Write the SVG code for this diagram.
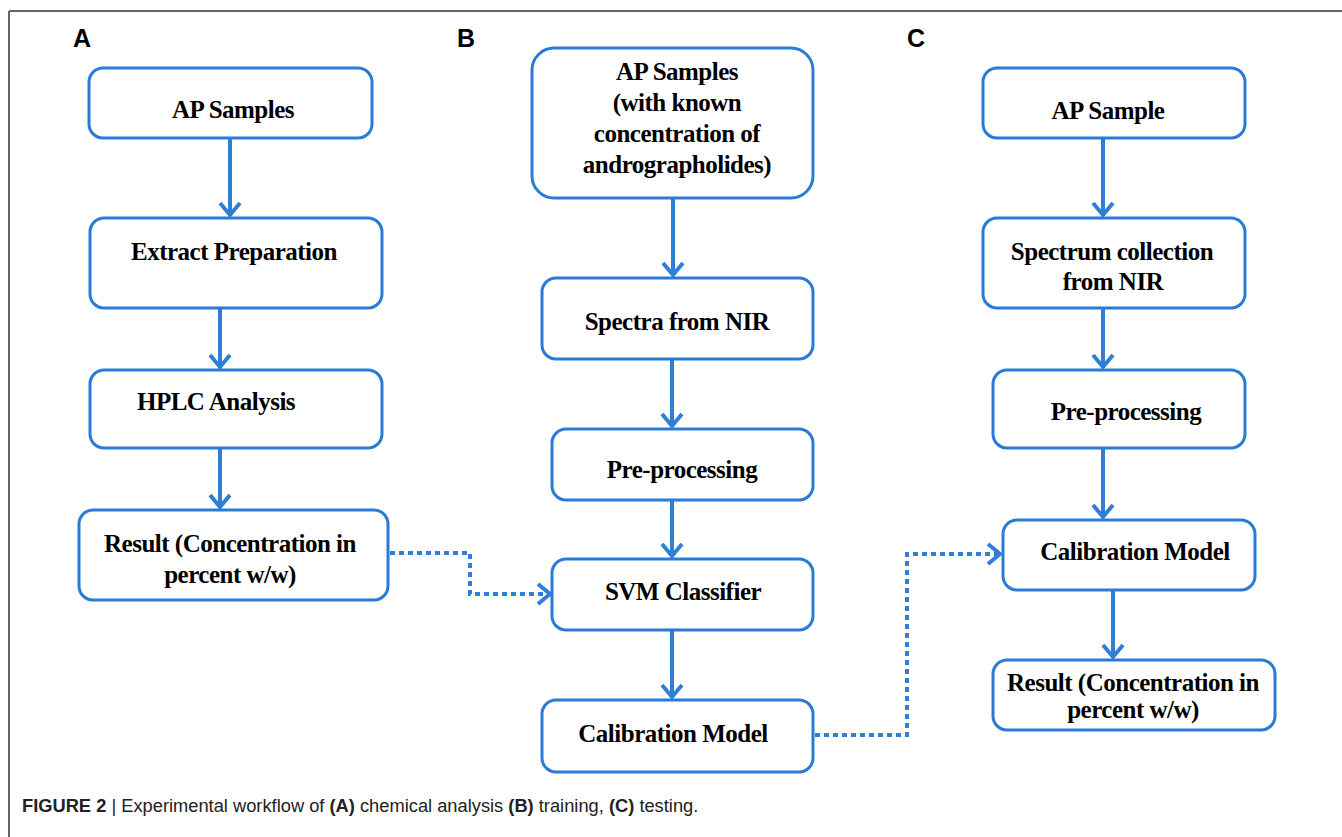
<svg xmlns="http://www.w3.org/2000/svg" width="1342" height="837" viewBox="0 0 1342 837">
<style>
.box{fill:#fff;stroke:#2a7bd5;stroke-width:3}
.t{font-family:"Liberation Serif","Times New Roman",serif;font-weight:bold;font-size:25px;fill:#000;text-anchor:middle;letter-spacing:-0.5px}
.lbl{font-family:"Liberation Sans",Arial,sans-serif;font-weight:bold;font-size:25px;fill:#000}
.cap{font-family:"Liberation Sans",Arial,sans-serif;font-size:18.3px;fill:#222}
.sol{fill:none;stroke:#2f7fd6;stroke-width:4;marker-end:url(#ah)}
.dot{fill:none;stroke:#2f7fd6;stroke-width:4;stroke-dasharray:5 4;marker-end:url(#ah)}
</style>
<defs>
<marker id="ah" markerUnits="userSpaceOnUse" markerWidth="30" markerHeight="30" viewBox="-15 -15 30 30" refX="0" refY="0" orient="auto">
<path d="M-13,-10 L-1,0 L-13,10" fill="none" stroke="#2f7fd6" stroke-width="4" stroke-linejoin="miter"/>
</marker>
</defs>
<rect width="1342" height="837" fill="#fff"/>
<path d="M9,11 H1342 M9,11 V837" fill="none" stroke="#666" stroke-width="2"/>
<text class="lbl" x="73" y="47">A</text>
<text class="lbl" x="457" y="47">B</text>
<text class="lbl" x="907" y="47">C</text>
<g id="connectors">
<path class="sol" d="M230,138 V216"/>
<path class="sol" d="M220,308 V368"/>
<path class="sol" d="M220,448 V508"/>
<path class="sol" d="M673,198 V276"/>
<path class="sol" d="M672,359 V427"/>
<path class="sol" d="M672,500 V557"/>
<path class="sol" d="M672,630 V698"/>
<path class="sol" d="M1103,138 V216"/>
<path class="sol" d="M1103,308 V368"/>
<path class="sol" d="M1103,448 V518"/>
<path class="sol" d="M1113,590 V658"/>
<path class="dot" d="M390,553 H470 V594 H551"/>
<path class="dot" d="M815,735 H907 V554 H1001"/>
</g>
<g id="a1"><rect class="box" x="89" y="68" width="283" height="70" rx="14"/><text class="t" x="233" y="118">AP Samples</text></g>
<g id="a2"><rect class="box" x="90" y="218" width="292" height="90" rx="14"/><text class="t" x="234" y="260">Extract Preparation</text></g>
<g id="a3"><rect class="box" x="90" y="370" width="292" height="78" rx="14"/><text class="t" x="216" y="410">HPLC Analysis</text></g>
<g id="a4"><rect class="box" x="79" y="510" width="309" height="90" rx="14"/><text class="t" x="230" y="552">Result (Concentration in</text><text class="t" x="230" y="583">percent w/w)</text></g>
<g id="b1"><rect class="box" x="532" y="48" width="281" height="150" rx="22"/><text class="t" x="677" y="80">AP Samples</text><text class="t" x="677" y="111">(with known</text><text class="t" x="677" y="142">concentration of</text><text class="t" x="677" y="173">andrographolides)</text></g>
<g id="b2"><rect class="box" x="542" y="278" width="271" height="81" rx="14"/><text class="t" x="677" y="330">Spectra from NIR</text></g>
<g id="b3"><rect class="box" x="552" y="429" width="261" height="71" rx="14"/><text class="t" x="682" y="478">Pre-processing</text></g>
<g id="b4"><rect class="box" x="552" y="559" width="261" height="71" rx="14"/><text class="t" x="683" y="600">SVM Classifier</text></g>
<g id="b5"><rect class="box" x="542" y="700" width="271" height="72" rx="14"/><text class="t" x="673" y="742">Calibration Model</text></g>
<g id="c1"><rect class="box" x="983" y="68" width="262" height="70" rx="14"/><text class="t" x="1108" y="119">AP Sample</text></g>
<g id="c2"><rect class="box" x="983" y="218" width="262" height="90" rx="14"/><text class="t" x="1112" y="260">Spectrum collection</text><text class="t" x="1113" y="290">from NIR</text></g>
<g id="c3"><rect class="box" x="993" y="370" width="252" height="78" rx="14"/><text class="t" x="1126" y="420">Pre-processing</text></g>
<g id="c4"><rect class="box" x="1003" y="520" width="252" height="70" rx="14"/><text class="t" x="1135" y="560">Calibration Model</text></g>
<g id="c5"><rect class="box" x="993" y="660" width="282" height="70" rx="14"/><text class="t" x="1133" y="691">Result (Concentration in</text><text class="t" x="1133" y="718">percent w/w)</text></g>
<text class="cap" x="22" y="812"><tspan font-weight="bold">FIGURE 2</tspan> | Experimental workflow of <tspan font-weight="bold">(A)</tspan> chemical analysis <tspan font-weight="bold">(B)</tspan> training, <tspan font-weight="bold">(C)</tspan> testing.</text>
</svg>
